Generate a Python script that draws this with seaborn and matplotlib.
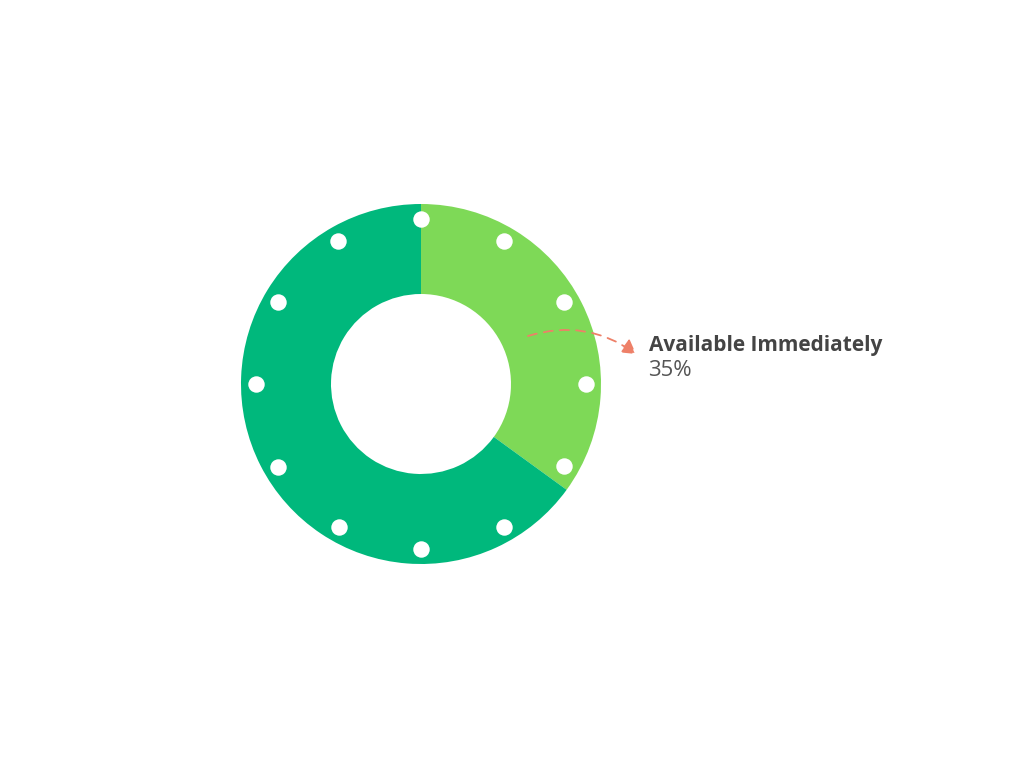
import matplotlib
matplotlib.use("Agg")
import matplotlib.pyplot as plt
import seaborn as sns
import numpy as np

categories = ["Available Immediately", "Other"]
values = [35, 65]
colors = ["#7ED957", "#00B87C"]
label_text = "Available Immediately"
label_value = "35%"

sns.set_theme(style="white")
plt.rcParams['font.family'] = ['Open Sans', 'DejaVu Sans']

fig = plt.figure(figsize=(10.24, 7.68), dpi=100)
ax = fig.add_axes([0, 0, 1, 1])

cx, cy, R, r_in = 421, 384, 180, 90
# y axis is inverted, so counterclock=True in data space draws clockwise on screen
ax.pie(values, colors=colors, startangle=-90, counterclock=True,
       center=(cx, cy), radius=R, frame=True,
       wedgeprops=dict(width=R - r_in, linewidth=0))
ax.set_xlim(0, 1024)
ax.set_ylim(768, 0)
ax.set_aspect('equal')
ax.axis('off')

# decorative dots
ang = np.deg2rad(np.arange(0, 360, 30))
rd = 165
ax.scatter(cx + rd * np.sin(ang), cy - rd * np.cos(ang), s=140, marker='o',
           color='white', zorder=5, linewidths=0)

ax.annotate("", xy=(636, 354), xytext=(528, 336),
            arrowprops=dict(arrowstyle="-|>,head_length=0.6,head_width=0.35",
                            color="#EE8068", lw=1.3,
                            linestyle=(0, (5, 4)), mutation_scale=14,
                            connectionstyle="arc3,rad=-0.25", shrinkA=0, shrinkB=0))
ax.text(649, 346, label_text, fontsize=15, fontweight='bold', color='#444444',
        va='center', ha='left')
ax.text(648, 371, label_value, fontsize=16, color='#555555', va='center', ha='left')

fig.savefig("out.png", dpi=100)
